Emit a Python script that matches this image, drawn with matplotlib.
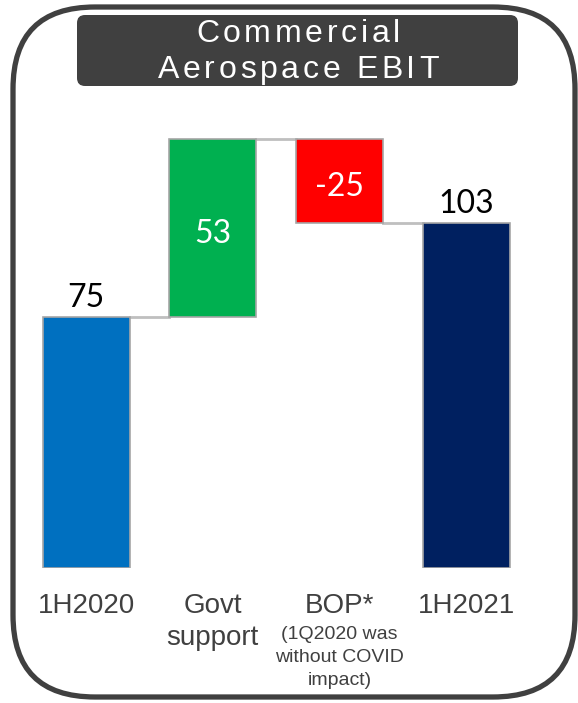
import matplotlib
matplotlib.use("Agg")
import matplotlib.pyplot as plt
from matplotlib.patches import FancyBboxPatch
from matplotlib.font_manager import FontProperties, findfont
from matplotlib import ft2font

# chart data
categories = ["1H2020", "Govt\nsupport", "BOP*", "1H2021"]
notes = ["", "", "(1Q2020 was\nwithout COVID\nimpact)", ""]
changes = [75, 53, -25, 103]
kinds = ["total", "delta", "delta", "total"]
colors = ["#0070C0", "#00B050", "#FF0000", "#002060"]
value_labels = ["75", "53", "-25", "103"]
title_lines = ["Commercial", "Aerospace EBIT"]

W, H = 578, 703
DPI = 100
fig = plt.figure(figsize=(W / DPI, H / DPI), dpi=DPI)


def spaced_text(ax, xc, y, s, size, gap, family, **kw):
    # draw a string centred at xc with extra letter spacing (pixel coords)
    prop = FontProperties(family=family, size=size)
    font = ft2font.FT2Font(findfont(prop))
    font.set_size(size, DPI)
    advs = [font.load_char(ord(ch)).linearHoriAdvance / 65536 for ch in s]
    total = sum(advs) + gap * (len(s) - 1)
    x = xc - total / 2
    for ch, a in zip(s, advs):
        ax.text(x, y, ch, fontproperties=prop, ha="left", va="baseline", **kw)
        x += a + gap


# frame + title box, drawn in pixel coords
deco = fig.add_axes([0, 0, 1, 1])
deco.set_xlim(0, W)
deco.set_ylim(H, 0)
deco.axis("off")
deco.add_patch(FancyBboxPatch((13, 7), 562, 690,
                              boxstyle="round,pad=0,rounding_size=82",
                              fill=False, ec="#404040", lw=3.8))
deco.add_patch(FancyBboxPatch((77, 15), 441, 71,
                              boxstyle="round,pad=0,rounding_size=8",
                              fc="#404040", ec="none"))
for line, base in zip(title_lines, [42, 78]):
    spaced_text(deco, 298, base, line, 23, 3.7, "Liberation Sans",
                color="white")

# waterfall
ax = fig.add_axes([22.7 / W, (H - 568) / H, 506.7 / W, 435.5 / H])
ax.set_xlim(-0.5, 3.5)
ax.set_ylim(0, 130)
ax.axis("off")

width = 0.687
running = 0
bottoms, heights, levels = [], [], []
for c, k in zip(changes, kinds):
    if k == "total":
        b, h = 0, c
        running = c
    else:
        b, h = (running, c) if c >= 0 else (running + c, -c)
        running += c
    bottoms.append(b)
    heights.append(h)
    levels.append(running)

xs = list(range(len(categories)))
ax.bar(xs, heights, bottom=bottoms, width=width, color=colors,
       edgecolor="#A6A6A6", linewidth=1.2, zorder=3)

for i in range(len(xs) - 1):
    ax.plot([i + width / 2, i + 1 - width / 2], [levels[i], levels[i]],
            color="#BFBFBF", lw=2, zorder=2)

for i, (k, lab) in enumerate(zip(kinds, value_labels)):
    if k == "total":
        ax.annotate(lab, (i, bottoms[i] + heights[i]), xytext=(0, 3),
                    textcoords="offset points", ha="center", va="bottom",
                    fontsize=23, family="Lato", color="black")
    else:
        ax.annotate(lab, (i, bottoms[i] + heights[i] / 2), xytext=(0, -4.5),
                    textcoords="offset points", ha="center", va="center",
                    fontsize=23, family="Lato", color="white", zorder=4)

for i, (cat, note) in enumerate(zip(categories, notes)):
    ax.text(i, -7.5, cat, ha="center", va="top", fontsize=20,
            family="Liberation Sans", color="#404040", linespacing=1.3,
            clip_on=False)
    if note:
        ax.text(i, -17.2, note, ha="center", va="top", fontsize=14,
                family="Liberation Sans", color="#404040", linespacing=1.47,
                clip_on=False)

fig.savefig("out.png", dpi=DPI)
